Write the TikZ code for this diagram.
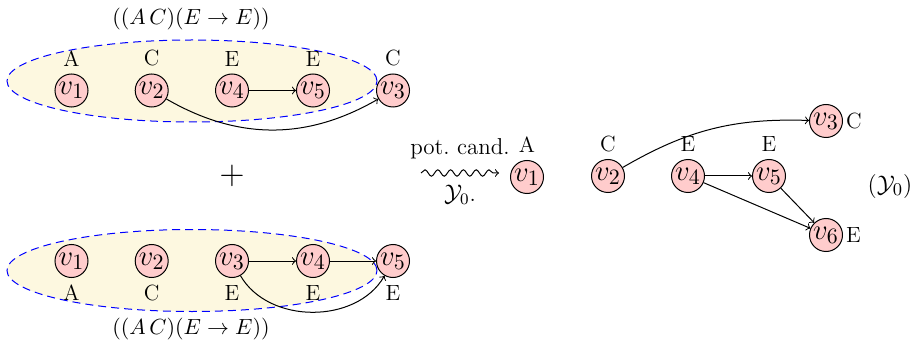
\documentclass[tikz,border=0pt]{standalone}
\usetikzlibrary{decorations.pathmorphing}
\definecolor{nodepink}{RGB}{255,204,204}
\definecolor{setfill}{RGB}{253,248,224}
\begin{document}
\begin{tikzpicture}[x=0.5pt,y=-0.5pt,line width=0.5pt,
  vnode/.style={circle,draw,fill=nodepink,inner sep=0pt,minimum size=16.5pt,
    font=\fontsize{15.5}{18}\selectfont},
  setell/.style={draw=blue,dash pattern=on 4pt off 2.5pt,fill=setfill},
  every label/.style={font=\fontsize{11}{13}\selectfont}]
\useasboundingbox (0,0) rectangle (919,347);
% sets
\draw[setell] (192,81) ellipse [x radius=92.5pt, y radius=20.5pt];
\draw[setell] (192,270.5) ellipse [x radius=92.5pt, y radius=20.5pt];
% top group
\node[vnode,label={above:A}] (t1) at (71.5,90.5) {$v_1$};
\node[vnode,label={above:C}] (t2) at (151.7,90.5) {$v_2$};
\node[vnode,label={above:E}] (t4) at (232,90.5) {$v_4$};
\node[vnode,label={above:E}] (t5) at (313,90.5) {$v_5$};
\node[vnode,label={above:C}] (t3) at (393,90.5) {$v_3$};
\draw[->] (t4) -- (t5);
\draw[->] (t2) to[bend right=30] (t3);
\node[font=\fontsize{10.8}{13}\selectfont] (ttitle) at (191,19) {$((A\,C)(E\rightarrow E))$};
% bottom group
\node[vnode,label={below:A}] (b1) at (71.5,261) {$v_1$};
\node[vnode,label={below:C}] (b2) at (151.7,261) {$v_2$};
\node[vnode,label={below:E}] (b3) at (232,261) {$v_3$};
\node[vnode,label={below:E}] (b4) at (313,261) {$v_4$};
\node[vnode,label={below:E}] (b5) at (393,261) {$v_5$};
\draw[->] (b3) -- (b4);
\draw[->] (b4) -- (b5);
\draw[->] (b3) to[bend right=60] (b5);
\node[font=\fontsize{10.8}{13}\selectfont] (btitle) at (191,329) {$((A\,C)(E\rightarrow E))$};
% plus
\node[font=\fontsize{16.5}{19}\selectfont] (plus) at (232,176) {$+$};
% squiggle
\coordinate (sqa) at (421,173);
\coordinate (sqb) at (499,173);
\draw[->,decorate,decoration={snake,amplitude=1.6pt,segment length=6.4pt,post length=2pt}] (sqa) -- (sqb);
\node[font=\fontsize{11.5}{14}\selectfont] (pc) at (460,149) {pot.\ cand.};
\node[font=\fontsize{11.5}{14}\selectfont] (y0) at (460,195) {$\mathcal{Y}_0$.};
% right graph
\node[vnode,label={above:A}] (r1) at (527,177) {$v_1$};
\node[vnode,label={above:C}] (r2) at (608,176) {$v_2$};
\node[vnode,label={above:E}] (r4) at (688,176) {$v_4$};
\node[vnode,label={above:E}] (r5) at (769,176) {$v_5$};
\node[vnode,label={[label distance=-2pt]right:C}] (r3) at (826,121) {$v_3$};
\node[vnode,label={[label distance=-2pt]right:E}] (r6) at (826,235) {$v_6$};
\draw[->] (r2) to[bend left=16] (r3);
\draw[->] (r4) -- (r5);
\draw[->] (r4) -- (r6);
\draw[->] (r5) -- (r6);
\node[font=\fontsize{13}{15}\selectfont] (ylab) at (890,186) {$(\mathcal{Y}_0)$};
\end{tikzpicture}
\end{document}
